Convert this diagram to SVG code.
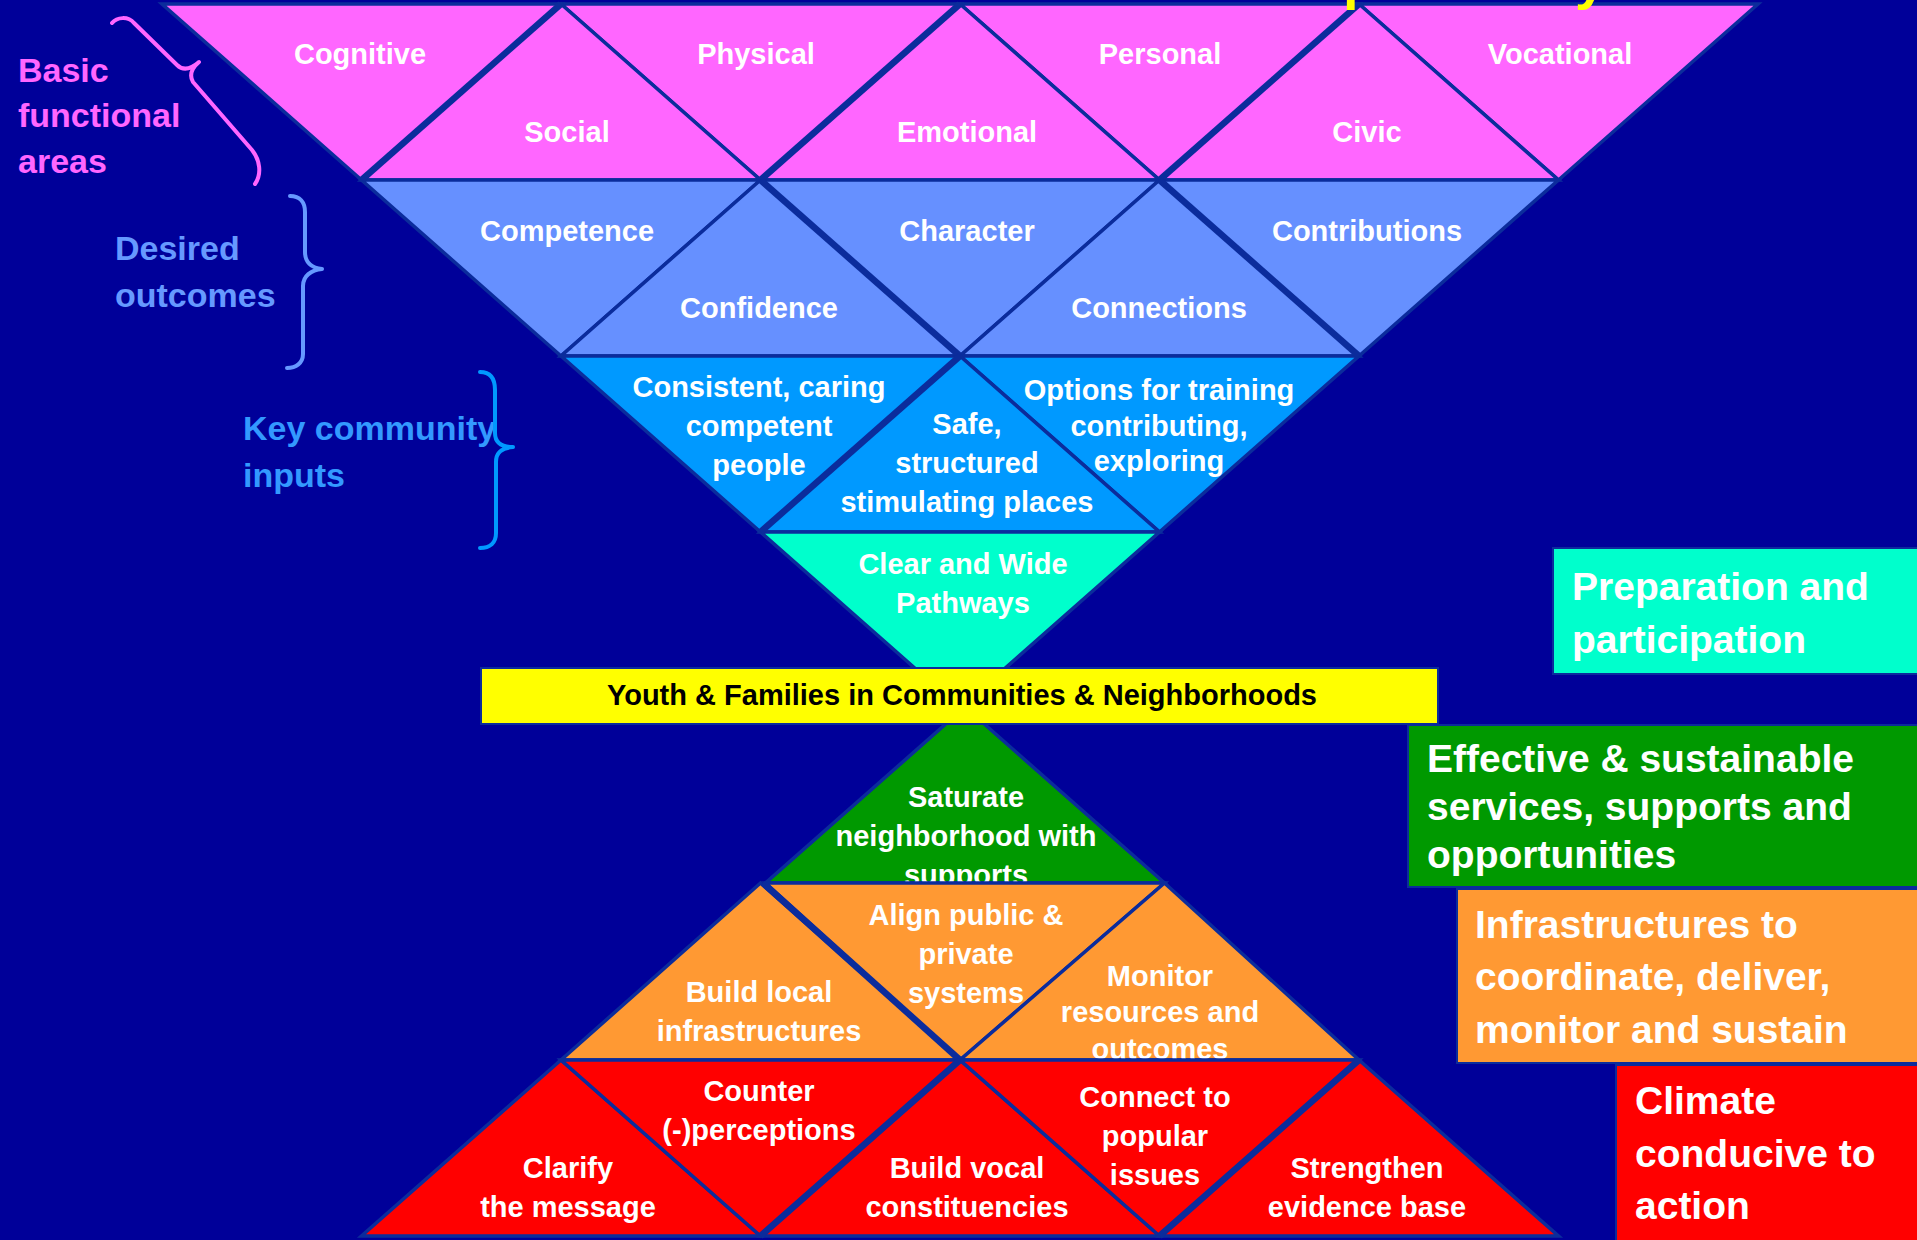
<svg xmlns="http://www.w3.org/2000/svg" width="1917" height="1240" viewBox="0 0 1917 1240">
  <style>
    .tri { stroke: #0B2C9C; stroke-width: 3.5; stroke-linejoin: miter; }
    .seam { stroke: #0B2C9C; stroke-width: 6.5; stroke-linecap: butt; fill: none; }
    .pink { fill: #FF66FF; }
    .lav { fill: #6690FF; }
    .sky { fill: #0099FF; }
    .aqua { fill: #00FFCC; }
    .green { fill: #009900; }
    .orange { fill: #FF9933; }
    .red { fill: #FF0000; }
    .lbl { font-family: "Liberation Sans", Arial, sans-serif; font-weight: bold; font-size: 29px; fill: #FFFFFF; text-anchor: middle; }
    .side { font-family: "Liberation Sans", Arial, sans-serif; font-weight: bold; font-size: 34px; }
    .box { stroke: #0B2C9C; stroke-width: 2; }
    .boxtxt { font-family: "Liberation Sans", Arial, sans-serif; font-weight: bold; font-size: 39px; fill: #FFFFFF; }
    .brace { fill: none; stroke-width: 4; stroke-linecap: round; stroke-linejoin: round; }
  </style>

  <!-- background -->
  <rect x="0" y="0" width="1917" height="1240" fill="#000099"/>

  <!-- ===== upper inverted pyramid ===== -->
  <!-- row 1: basic functional areas -->
  <g id="cognitive">
    <polygon class="tri pink" points="162,4 561,4 361.5,180"/>
    <text class="lbl" x="360" y="64">Cognitive</text>
  </g>
  <g id="physical">
    <polygon class="tri pink" points="561,4 960,4 760.5,180"/>
    <text class="lbl" x="756" y="64">Physical</text>
  </g>
  <g id="personal">
    <polygon class="tri pink" points="960,4 1359,4 1159.5,180"/>
    <text class="lbl" x="1160" y="64">Personal</text>
  </g>
  <g id="vocational">
    <polygon class="tri pink" points="1359,4 1758,4 1558.5,180"/>
    <text class="lbl" x="1560" y="64">Vocational</text>
  </g>
  <g id="social">
    <polygon class="tri pink" points="561,4 760.5,180 361.5,180"/>
    <text class="lbl" x="567" y="142">Social</text>
  </g>
  <g id="emotional">
    <polygon class="tri pink" points="960,4 1159.5,180 760.5,180"/>
    <text class="lbl" x="967" y="142">Emotional</text>
  </g>
  <g id="civic">
    <polygon class="tri pink" points="1359,4 1558.5,180 1159.5,180"/>
    <text class="lbl" x="1367" y="142">Civic</text>
  </g>

  <!-- row 2: desired outcomes -->
  <g id="competence">
    <polygon class="tri lav" points="361.5,180 760.5,180 561,356"/>
    <text class="lbl" x="567" y="241">Competence</text>
  </g>
  <g id="character">
    <polygon class="tri lav" points="760.5,180 1159.5,180 960,356"/>
    <text class="lbl" x="967" y="241">Character</text>
  </g>
  <g id="contributions">
    <polygon class="tri lav" points="1159.5,180 1558.5,180 1359,356"/>
    <text class="lbl" x="1367" y="241">Contributions</text>
  </g>
  <g id="confidence">
    <polygon class="tri lav" points="760.5,180 960,356 561,356"/>
    <text class="lbl" x="759" y="318">Confidence</text>
  </g>
  <g id="connections">
    <polygon class="tri lav" points="1159.5,180 1359,356 960,356"/>
    <text class="lbl" x="1159" y="318">Connections</text>
  </g>

  <!-- row 3: key community inputs -->
  <g id="caring-people">
    <polygon class="tri sky" points="561,356 960,356 760.5,532"/>
    <text class="lbl" x="759" y="397">Consistent, caring</text>
    <text class="lbl" x="759" y="436">competent</text>
    <text class="lbl" x="759" y="475">people</text>
  </g>
  <g id="training-options">
    <polygon class="tri sky" points="960,356 1359,356 1159.5,532"/>
    <text class="lbl" x="1159" y="400">Options for training</text>
    <text class="lbl" x="1159" y="436">contributing,</text>
    <text class="lbl" x="1159" y="471">exploring</text>
  </g>
  <g id="safe-places">
    <polygon class="tri sky" points="960,356 1159.5,532 760.5,532"/>
    <text class="lbl" x="967" y="434">Safe,</text>
    <text class="lbl" x="967" y="473">structured</text>
    <text class="lbl" x="967" y="512">stimulating places</text>
  </g>

  <!-- row 4 -->
  <g id="pathways">
    <polygon class="tri aqua" points="760.5,532 1159.5,532 960,708"/>
    <text class="lbl" x="963" y="574">Clear and Wide</text>
    <text class="lbl" x="963" y="613">Pathways</text>
  </g>

  <!-- doubled seams of the upper pyramid -->
  <g id="upper-seams">
    <line class="seam" x1="561" y1="4" x2="361.5" y2="180"/>
    <line class="seam" x1="960" y1="4" x2="760.5" y2="180"/>
    <line class="seam" x1="1359" y1="4" x2="1159.5" y2="180"/>
    <line class="seam" x1="760.5" y1="180" x2="960" y2="356"/>
    <line class="seam" x1="1159.5" y1="180" x2="1359" y2="356"/>
    <line class="seam" x1="960" y1="356" x2="760.5" y2="532"/>
  </g>

  <!-- ===== lower pyramid ===== -->
  <g id="saturate">
    <polygon class="tri green" points="965,707 1164.5,883 765.5,883"/>
    <text class="lbl" x="966" y="807">Saturate</text>
    <text class="lbl" x="966" y="846">neighborhood with</text>
    <text class="lbl" x="966" y="885">supports</text>
  </g>

  <g id="build-local">
    <polygon class="tri orange" points="760.5,883 960,1060 561,1060"/>
    <text class="lbl" x="759" y="1002">Build local</text>
    <text class="lbl" x="759" y="1041">infrastructures</text>
  </g>
  <g id="align-systems">
    <polygon class="tri orange" points="765.5,883 1164.5,883 960,1060"/>
    <text class="lbl" x="966" y="925">Align public &amp;</text>
    <text class="lbl" x="966" y="964">private</text>
    <text class="lbl" x="966" y="1003">systems</text>
  </g>
  <g id="monitor">
    <polygon class="tri orange" points="1164.5,883 1359,1060 960,1060"/>
    <text class="lbl" x="1160" y="986">Monitor</text>
    <text class="lbl" x="1160" y="1022">resources and</text>
    <text class="lbl" x="1160" y="1059">outcomes</text>
  </g>

  <g id="clarify">
    <polygon class="tri red" points="561,1060 760.5,1236 361.5,1236"/>
    <text class="lbl" x="568" y="1178">Clarify</text>
    <text class="lbl" x="568" y="1217">the message</text>
  </g>
  <g id="counter">
    <polygon class="tri red" points="561,1060 960,1060 760.5,1236"/>
    <text class="lbl" x="759" y="1101">Counter</text>
    <text class="lbl" x="759" y="1140">(-)perceptions</text>
  </g>
  <g id="build-vocal">
    <polygon class="tri red" points="960,1060 1159.5,1236 760.5,1236"/>
    <text class="lbl" x="967" y="1178">Build vocal</text>
    <text class="lbl" x="967" y="1217">constituencies</text>
  </g>
  <g id="connect">
    <polygon class="tri red" points="960,1060 1359,1060 1159.5,1236"/>
    <text class="lbl" x="1155" y="1107">Connect to</text>
    <text class="lbl" x="1155" y="1146">popular</text>
    <text class="lbl" x="1155" y="1185">issues</text>
  </g>
  <g id="strengthen">
    <polygon class="tri red" points="1359,1060 1558.5,1236 1159.5,1236"/>
    <text class="lbl" x="1367" y="1178">Strengthen</text>
    <text class="lbl" x="1367" y="1217">evidence base</text>
  </g>

  <!-- doubled seams of the lower pyramid -->
  <g id="lower-seams">
    <line class="seam" x1="763" y1="883" x2="960" y2="1060"/>
    <line class="seam" x1="960" y1="1060" x2="760.5" y2="1236"/>
    <line class="seam" x1="1359" y1="1060" x2="1159.5" y2="1236"/>
  </g>

  <!-- central band -->
  <g id="youth-families">
    <rect x="481" y="668" width="957" height="56" fill="#FFFF00" stroke="#0B2C9C" stroke-width="2"/>
    <text class="lbl" x="962" y="705" style="fill:#000000">Youth &amp; Families in Communities &amp; Neighborhoods</text>
  </g>

  <!-- title descenders peeking in at the top edge -->
  <g id="title" font-family="Liberation Sans, Arial, sans-serif" font-weight="bold" font-size="56" fill="#FFFF00">
    <text x="1343" y="-2">p</text>
    <text x="1575" y="-2">y</text>
  </g>

  <!-- ===== left-hand captions and braces ===== -->
  <g id="caption-basic">
    <text class="side" fill="#FF66FF" x="18" y="82">Basic</text>
    <text class="side" fill="#FF66FF" x="18" y="127">functional</text>
    <text class="side" fill="#FF66FF" x="18" y="173">areas</text>
  </g>
  <g id="caption-desired">
    <text class="side" fill="#6699FF" x="115" y="260">Desired</text>
    <text class="side" fill="#6699FF" x="115" y="307">outcomes</text>
  </g>
  <g id="caption-inputs">
    <text class="side" fill="#3399FF" x="243" y="440">Key community</text>
    <text class="side" fill="#3399FF" x="243" y="487">inputs</text>
  </g>

  <g id="braces">
    <path class="brace" stroke="#FF66FF" d="M112,23 C117,17 128,16 134,23 L177,65 C183,71 191,69 199,62 C192,68 189,75 193,82 L252,150 C260,160 262,174 255,184"/>
    <path class="brace" stroke="#6699FF" d="M290,196 C300,196 305,202 305,212 L305,252 C305,262 311,268 322,269 C311,270 303,276 303,286 L303,354 C303,363 296,368 287,368"/>
    <path class="brace" stroke="#0099FF" d="M480,372 C490,372 495,378 495,390 L495,433 C495,443 502,447 513,447 C502,448 496,452 496,462 L496,533 C496,543 490,548 480,548"/>
  </g>

  <!-- ===== right-hand legend boxes ===== -->
  <g id="legend-preparation">
    <rect class="box" x="1553" y="548" width="370" height="126" fill="#00FFCC"/>
    <text class="boxtxt" x="1572" y="600">Preparation and</text>
    <text class="boxtxt" x="1572" y="653">participation</text>
  </g>
  <g id="legend-services">
    <rect class="box" x="1408" y="725" width="515" height="162" fill="#009900"/>
    <text class="boxtxt" x="1427" y="772">Effective &amp; sustainable</text>
    <text class="boxtxt" x="1427" y="820">services, supports and</text>
    <text class="boxtxt" x="1427" y="868">opportunities</text>
  </g>
  <g id="legend-infrastructures">
    <rect class="box" x="1457" y="889" width="466" height="174" fill="#FF9933"/>
    <text class="boxtxt" x="1475" y="938">Infrastructures to</text>
    <text class="boxtxt" x="1475" y="990">coordinate, deliver,</text>
    <text class="boxtxt" x="1475" y="1043">monitor and sustain</text>
  </g>
  <g id="legend-climate">
    <rect class="box" x="1616" y="1065" width="307" height="180" fill="#FF0000"/>
    <text class="boxtxt" x="1635" y="1114">Climate</text>
    <text class="boxtxt" x="1635" y="1167">conducive to</text>
    <text class="boxtxt" x="1635" y="1219">action</text>
  </g>
</svg>
